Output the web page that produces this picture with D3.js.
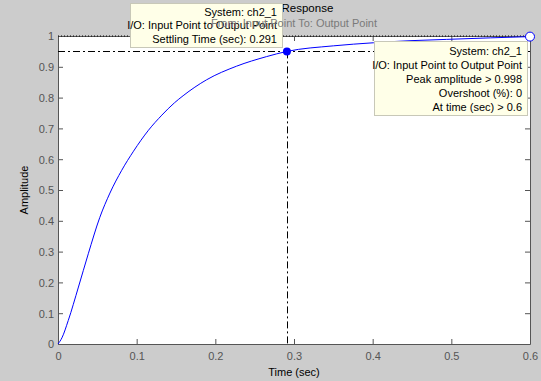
<!DOCTYPE html>
<html><head><meta charset="utf-8">
<script src="https://cdn.jsdelivr.net/npm/d3@7/dist/d3.min.js"></script>
<style>
html,body{margin:0;padding:0;background:#cccccc;}
svg{display:block;font-family:"Liberation Sans",Arial,sans-serif;}
</style></head>
<body>
<svg id="c" width="541" height="381"></svg>
<script>
// Data
const timeValues = [0, 0.005, 0.013, 0.026, 0.0385, 0.053, 0.066, 0.081, 0.096, 0.115, 0.132, 0.148, 0.159, 0.189, 0.227, 0.265, 0.291, 0.35, 0.401, 0.45, 0.494, 0.55, 0.6];
const amplitudeValues = [0, 0.02, 0.076, 0.185, 0.293, 0.41, 0.49, 0.564, 0.626, 0.694, 0.743, 0.783, 0.806, 0.858, 0.902, 0.933, 0.95, 0.968, 0.978, 0.985, 0.989, 0.994, 0.998];
const xTicks = [0, 0.1, 0.2, 0.3, 0.4, 0.5, 0.6];
const yTicks = [0, 0.1, 0.2, 0.3, 0.4, 0.5, 0.6, 0.7, 0.8, 0.9, 1];
const settlingTime = 0.291;
const settlingLevel = 0.95;
const finalValue = 1;
const peakTime = 0.6;
const peakAmplitude = 0.998;
const tip1Lines = ["System: ch2_1", "I/O: Input Point to Output Point", "Settling Time (sec): 0.291"];
const tip2Lines = ["System: ch2_1", "I/O: Input Point to Output Point", "Peak amplitude > 0.998", "Overshoot (%): 0", "At time (sec) > 0.6"];

const svg = d3.select("#c");
const L = 58, R = 530, T = 36, B = 344;
const x = d3.scaleLinear().domain([0, 0.6]).range([L, R]);
const y = d3.scaleLinear().domain([0, 1]).range([B, T]);

svg.append("rect").attr("x", L).attr("y", T).attr("width", R - L).attr("height", B - T).attr("fill", "#fff");

const axCol = "#555";
const fmt = d => d === 0 ? "0" : d3.format("")(d);
// bottom axis
const gx = svg.append("g").attr("transform", `translate(0,${B})`)
  .call(d3.axisBottom(x).tickValues(xTicks).tickFormat(fmt).tickSizeInner(-5).tickSizeOuter(0).tickPadding(8));
const gxt = svg.append("g").attr("transform", `translate(0,${T})`)
  .call(d3.axisTop(x).tickValues(xTicks).tickFormat("").tickSizeInner(-5).tickSizeOuter(0));
const gy = svg.append("g").attr("transform", `translate(${L},0)`)
  .call(d3.axisLeft(y).tickValues(yTicks).tickFormat(fmt).tickSizeInner(-5).tickSizeOuter(0).tickPadding(4));
const gyr = svg.append("g").attr("transform", `translate(${R},0)`)
  .call(d3.axisRight(y).tickValues(yTicks).tickFormat("").tickSizeInner(-5).tickSizeOuter(0));
[gx, gxt, gy, gyr].forEach(g => {
  g.selectAll("path.domain").attr("stroke", axCol).attr("stroke-width", 1);
  g.selectAll(".tick line").attr("stroke", axCol);
  g.selectAll("text").attr("fill", "#555").attr("font-size", 11).attr("font-family", "Liberation Sans, Arial, sans-serif");
});
gy.selectAll("text").attr("dy", "0.35em");

// final value dotted line
svg.append("line").attr("x1", L).attr("x2", R).attr("y1", y(finalValue)).attr("y2", y(finalValue))
  .attr("stroke", "#000").attr("stroke-dasharray", "1,2");

// settling lines
svg.append("line").attr("x1", L).attr("x2", R).attr("y1", Math.round(y(settlingLevel)) + 0.5).attr("y2", Math.round(y(settlingLevel)) + 0.5)
  .attr("stroke", "#000").attr("stroke-dasharray", "7,3,2,3");
svg.append("line").attr("x1", Math.round(x(settlingTime)) + 0.5).attr("x2", Math.round(x(settlingTime)) + 0.5)
  .attr("y1", y(settlingLevel)).attr("y2", B)
  .attr("stroke", "#000").attr("stroke-dasharray", "7,3,2,3");

// response curve
const pts = timeValues.map((t, i) => [t, amplitudeValues[i]]);
svg.append("path").datum(pts)
  .attr("d", d3.line().x(d => x(d[0])).y(d => y(d[1])).curve(d3.curveMonotoneX))
  .attr("fill", "none").attr("stroke", "#0000ff").attr("stroke-width", 1);

// markers
svg.append("circle").attr("cx", x(settlingTime)).attr("cy", y(settlingLevel)).attr("r", 4).attr("fill", "#0000ff");
svg.append("circle").attr("cx", x(peakTime)).attr("cy", y(peakAmplitude)).attr("r", 4.5).attr("fill", "#fff").attr("stroke", "#0000ff");

// title
svg.append("text").attr("x", (L + R) / 2).attr("y", 12).attr("text-anchor", "middle")
  .attr("font-size", 11.5).attr("fill", "#000").text("Step Response");

// axis labels
svg.append("text").attr("x", (L + R) / 2).attr("y", 376).attr("text-anchor", "middle")
  .attr("font-size", 11).attr("fill", "#000").text("Time (sec)");
svg.append("text").attr("transform", `translate(28,${(T + B) / 2}) rotate(-90)`).attr("text-anchor", "middle")
  .attr("font-size", 11).attr("fill", "#000").text("Amplitude");

// tooltip boxes
function tip(x0, y0, w, h, lines, step, firstY) {
  svg.append("rect").attr("x", x0 + 0.5).attr("y", y0 + 0.5).attr("width", w).attr("height", h)
    .attr("fill", "#ffffe8").attr("stroke", "#c8c8b8");
  lines.forEach((s, i) => {
    svg.append("text").attr("x", x0 + w - 5).attr("y", firstY + i * step).attr("text-anchor", "end")
      .attr("font-size", 11).attr("fill", "#000").text(s);
  });
}
tip(130, 3, 152, 44, tip1Lines, 13.4, 16);
tip(374, 41, 153, 74, tip2Lines, 13.9, 55);

// subtitle drawn over the first tooltip
svg.append("text").attr("x", (L + R) / 2).attr("y", 27).attr("text-anchor", "middle")
  .attr("font-size", 11).attr("fill", "#7a7a7a").text("From: Input Point  To: Output Point");
</script>
</body></html>
